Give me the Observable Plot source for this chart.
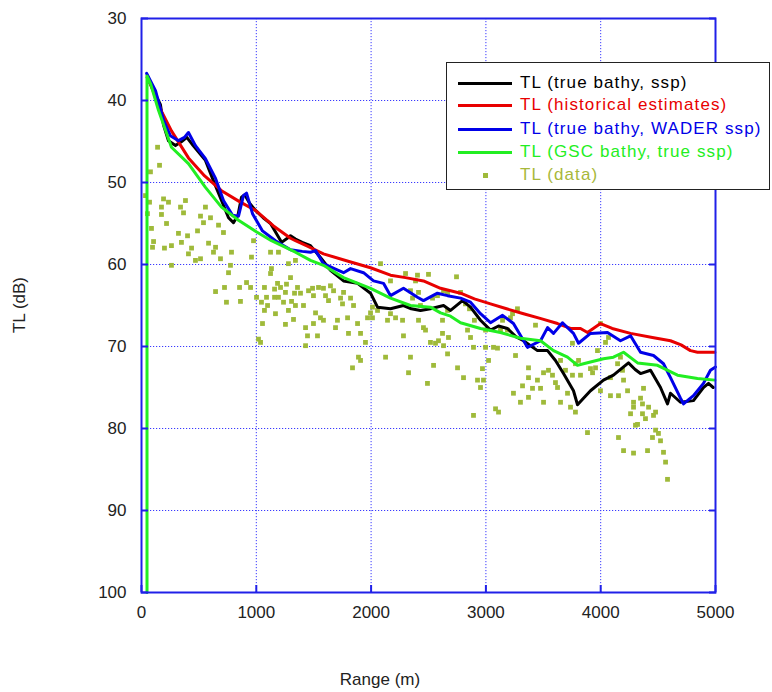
<!DOCTYPE html>
<html>
<head>
<meta charset="utf-8">
<script src="https://cdn.jsdelivr.net/npm/d3@7"></script>
<script src="https://cdn.jsdelivr.net/npm/@observablehq/plot@0.6"></script>
<style>
  body { margin: 0; background: #fff; }
  #wrap { position: relative; width: 772px; height: 692px; font-family: "Liberation Sans", Arial, sans-serif; }
  #legend { position: absolute; left: 446px; top: 62px; width: 324px; height: 128px; border: 1px solid #222; background: #fff; box-sizing: border-box; }
  .row { position: absolute; left: 0; height: 22px; display: flex; align-items: center; font-size: 17px; letter-spacing: 1.1px; }
  .sw { position: absolute; left: 11px; width: 54px; height: 3px; }
  .sq { position: absolute; left: 36px; width: 5px; height: 5px; }
  .lbl { position: absolute; left: 73px; white-space: nowrap; }
  #ylab { position: absolute; left: 20px; top: 305px; transform: translate(-50%,-50%) rotate(-90deg); font-size: 17px; color: #222; white-space: nowrap; }
  #xlab { position: absolute; left: 380px; top: 680px; transform: translate(-50%,-50%); font-size: 17px; color: #222; white-space: nowrap; }
</style>
</head>
<body>
<div id="wrap"></div>
<script>
const xTicks = [0, 1000, 2000, 3000, 4000, 5000];
const yTicks = [30, 40, 50, 60, 70, 80, 90, 100];

const seriesNames = ["TL (true bathy, ssp)", "TL (historical estimates)", "TL (true bathy, WADER ssp)", "TL (GSC bathy, true ssp)", "TL (data)"];
const seriesColors = ["#000000", "#e80000", "#0000e8", "#22ee22", "#9fba3a"];

const trueBathySsp = [[50,37.2],[105,38.8],[165,40.5],[192,43],[235,44.9],[296,45.5],[350,45.0],[395,44.5],[450,45.5],[557,47.3],[627,49.8],[697,52.2],[758,54.3],[801,54.9],[840,54.0],[871,51.8],[900,51.5],[940,52.5],[993,53.4],[1060,54.3],[1124,55.0],[1220,57.3],[1270,56.8],[1298,56.5],[1341,56.9],[1400,57.3],[1472,57.7],[1550,59.0],[1646,60.7],[1760,62.0],[1882,62.3],[1995,63.5],[2056,65.2],[2169,65.4],[2282,65.0],[2350,65.4],[2430,65.6],[2517,65.4],[2631,65.0],[2692,65.6],[2796,64.4],[2866,65.2],[2953,66.8],[3040,68.0],[3110,67.5],[3188,67.8],[3260,68.8],[3328,69.3],[3449,70.5],[3537,70.5],[3606,71.7],[3676,73.3],[3763,75.4],[3798,77.1],[3850,76.3],[3911,75.4],[4024,74.1],[4111,73.5],[4242,72.0],[4300,72.8],[4347,73.3],[4434,72.9],[4521,75.0],[4582,77.0],[4608,75.7],[4695,76.8],[4808,76.6],[4895,75.0],[4939,74.5],[4980,75.0]];

const historical = [[50,37.0],[120,39.5],[180,41.5],[261,43.7],[409,47.0],[550,49.2],[697,51.0],[850,52.3],[993,53.4],[1150,55.3],[1298,56.8],[1341,57.1],[1450,57.8],[1585,58.7],[1800,59.6],[1995,60.4],[2169,61.3],[2300,61.6],[2456,62.0],[2605,62.9],[2779,63.5],[2900,64.2],[3040,64.8],[3180,65.4],[3328,66.0],[3480,66.6],[3624,67.2],[3737,67.8],[3824,67.8],[3885,68.3],[3998,67.2],[4100,67.8],[4260,68.4],[4450,68.9],[4608,69.3],[4700,69.8],[4782,70.5],[4843,70.7],[4995,70.7]];

const waderSsp = [[45,36.7],[122,38.8],[192,42.4],[252,44.3],[322,44.9],[374,44.5],[409,43.9],[470,45.5],[557,47.1],[645,49.5],[714,52.2],[793,54.0],[845,54.1],[888,51.6],[915,51.3],[967,53.8],[1054,55.9],[1167,57.1],[1298,58.2],[1400,58.4],[1472,58.5],[1516,58.3],[1585,59.9],[1680,60.5],[1760,61.0],[1821,60.5],[1934,61.0],[2021,62.0],[2108,62.3],[2169,63.8],[2282,62.9],[2404,64.0],[2456,64.4],[2578,63.5],[2666,63.8],[2779,64.1],[2866,64.6],[2953,66.0],[3040,67.1],[3145,66.2],[3240,67.2],[3362,70.1],[3476,69.3],[3537,67.7],[3589,68.4],[3667,67.1],[3763,68.4],[3807,69.6],[3911,68.4],[4059,68.3],[4172,69.3],[4260,68.7],[4347,70.7],[4460,71.1],[4547,72.1],[4608,73.8],[4695,76.3],[4721,77.0],[4808,76.0],[4895,74.5],[4956,72.9],[5000,72.5]];

const gscBathy = [[48,100],[48,37.0],[80,38.0],[148,41.2],[261,45.7],[409,47.7],[557,50.6],[697,53.0],[845,54.6],[1000,56.0],[1132,57.1],[1341,58.5],[1472,59.5],[1585,60.1],[1760,61.6],[1995,62.9],[2169,64.1],[2343,65.0],[2517,65.2],[2605,65.9],[2692,66.3],[2779,67.1],[2953,67.8],[3127,68.3],[3301,69.0],[3476,69.3],[3589,70.5],[3711,71.3],[3798,72.3],[3850,72.1],[4024,71.5],[4111,71.3],[4199,70.7],[4321,72.0],[4495,72.3],[4669,73.5],[4843,73.9],[4995,74.1]];

const measured = [[140,45.7],[157,47.9],[78,48.7],[35,51.6],[70,52.4],[52,53.8],[87,55.6],[105,57.2],[96,57.9],[192,52.0],[235,52.4],[174,53.0],[174,53.9],[218,55.0],[261,57.7],[200,58.0],[322,56.2],[383,52.2],[340,53.0],[366,53.7],[401,56.5],[348,57.3],[436,58.0],[409,58.7],[470,59.5],[261,60.1],[557,53.0],[514,54.1],[601,54.3],[540,54.9],[671,55.2],[488,55.9],[714,56.1],[584,57.4],[645,57.9],[627,58.5],[514,59.3],[688,59.3],[784,58.5],[758,61.0],[775,60.1],[958,59.1],[976,57.1],[1124,61.1],[1132,60.5],[1298,61.6],[1254,63.4],[1193,64.0],[1124,58.5],[1193,58.5],[1280,59.9],[1341,59.5],[645,63.3],[723,62.8],[740,64.6],[854,62.8],[862,64.5],[915,62.2],[950,62.8],[1002,64.0],[1045,64.6],[1071,62.8],[1089,64.0],[1071,65.6],[1098,65.0],[1159,63.0],[1159,64.0],[1167,66.0],[1054,67.2],[1185,62.3],[1211,62.8],[1263,62.4],[1237,64.6],[1280,65.6],[1254,67.3],[1307,64.5],[1333,63.5],[1341,65.0],[1324,66.7],[1019,69.1],[1037,69.5],[1359,62.8],[1385,63.5],[1411,65.0],[1429,67.7],[1446,68.7],[1429,69.9],[1455,63.2],[1490,62.9],[1498,63.8],[1542,62.8],[1585,62.9],[1603,63.8],[1646,62.6],[1673,63.2],[1629,64.4],[1516,65.9],[1585,66.8],[1559,66.5],[1498,67.2],[1533,68.7],[1707,66.8],[1690,67.7],[1734,64.1],[1751,64.8],[1760,63.4],[1795,66.5],[1821,64.1],[1847,65.0],[1803,68.4],[1882,67.2],[1908,68.4],[1951,69.5],[1890,71.3],[1908,71.7],[1838,72.6],[1969,66.5],[1995,65.9],[2012,65.2],[2056,65.6],[2012,66.5],[2082,59.9],[2169,62.0],[2300,61.1],[2387,62.0],[2404,61.3],[2343,63.2],[2143,66.8],[2213,66.5],[2169,66.0],[2126,71.3],[2274,66.8],[2343,71.3],[2326,73.2],[2413,66.8],[2456,67.7],[2474,68.0],[2544,72.3],[2517,69.5],[2561,69.6],[2587,69.3],[2622,68.4],[2631,69.9],[2666,70.9],[2578,63.8],[2666,63.5],[2631,63.2],[2500,61.2],[2413,63.4],[2361,64.1],[2430,65.0],[2535,64.1],[2282,68.7],[2491,74.5],[2622,66.8],[2666,65.6],[2674,68.9],[2744,61.5],[2753,72.6],[2779,63.4],[2822,64.8],[2857,65.4],[2900,66.8],[2840,68.0],[2866,68.9],[2892,70.1],[2805,73.8],[2892,78.4],[2953,75.0],[2927,74.1],[2979,74.1],[2970,72.7],[3023,71.7],[3066,70.1],[3101,70.2],[2997,70.1],[2997,68.0],[3084,77.6],[3110,78.0],[3127,68.0],[3145,66.8],[3188,68.0],[3214,66.5],[3232,66.0],[3275,65.4],[3258,71.1],[3240,75.7],[3301,76.8],[3319,74.8],[3371,76.2],[3371,73.8],[3371,72.6],[3406,75.1],[3432,67.4],[3449,74.1],[3476,75.1],[3502,76.8],[3502,73.2],[3545,72.9],[3580,73.5],[3606,74.4],[3624,75.0],[3650,76.8],[3650,71.7],[3693,72.9],[3711,75.7],[3737,77.4],[3780,78.0],[3754,73.5],[3780,72.1],[3807,71.7],[3824,73.5],[3885,80.5],[3911,72.7],[3929,73.2],[3955,72.6],[3972,70.5],[3998,67.2],[3998,75.4],[4042,69.5],[4068,68.9],[4085,73.8],[4085,76.0],[4147,72.1],[4155,76.0],[4172,71.3],[4155,81.1],[4190,72.9],[4199,74.1],[4234,75.4],[4260,78.2],[4286,76.8],[4286,77.4],[4303,79.6],[4321,79.5],[4347,76.3],[4364,77.0],[4373,75.1],[4364,78.2],[4390,78.8],[4408,82.7],[4417,77.4],[4451,81.1],[4460,78.4],[4478,80.2],[4503,80.6],[4547,82.9],[4565,84.1],[4521,81.5],[4478,78.0],[4199,82.7],[4286,83.0],[4582,86.2],[3754,69.6]];

const blue = "#2020e8";
const grid = {stroke: "#3a3aff", strokeOpacity: 1, strokeDasharray: "1.2,1.8", strokeWidth: 1};

const chart = Plot.plot({
  width: 772,
  height: 692,
  marginTop: 18,
  marginBottom: 100,
  marginLeft: 141,
  marginRight: 57,
  style: {fontFamily: "Liberation Sans, Arial, sans-serif", fontSize: "17px", color: "#222", background: "#fff"},
  x: {domain: [0, 5000]},
  y: {domain: [30, 100], reverse: true},
  marks: [
    Plot.gridX(xTicks, grid),
    Plot.gridY(yTicks, grid),
    Plot.dot(measured, {x: d => d[0], y: d => d[1], symbol: "square", r: 2.7, fill: seriesColors[4], stroke: "none"}),
    Plot.line(trueBathySsp, {x: d => d[0], y: d => d[1], stroke: seriesColors[0], strokeWidth: 3}),
    Plot.line(historical, {x: d => d[0], y: d => d[1], stroke: seriesColors[1], strokeWidth: 3}),
    Plot.line(waderSsp, {x: d => d[0], y: d => d[1], stroke: seriesColors[2], strokeWidth: 3}),
    Plot.line(gscBathy, {x: d => d[0], y: d => d[1], stroke: seriesColors[3], strokeWidth: 3}),
    Plot.frame({stroke: blue, strokeWidth: 2}),
    Plot.axisY(yTicks, {anchor: "left", tickSize: 0, tickPadding: 15, label: null, fill: "#222"}),
    Plot.axisX(xTicks, {anchor: "bottom", tickSize: 0, tickPadding: 13, label: null, fill: "#222", tickFormat: d => String(d)}),
    Plot.axisY(yTicks, {anchor: "left", tickSize: 7, text: null, label: null, dx: 7, stroke: blue, strokeWidth: 2}),
    Plot.axisY(yTicks, {anchor: "right", tickSize: 7, text: null, label: null, dx: -7, stroke: blue, strokeWidth: 2}),
    Plot.axisX(xTicks, {anchor: "bottom", tickSize: 7, text: null, label: null, dy: -7, stroke: blue, strokeWidth: 2})
  ]
});

const wrap = document.getElementById("wrap");
wrap.appendChild(chart);

const ylab = document.createElement("div");
ylab.id = "ylab"; ylab.textContent = "TL (dB)";
wrap.appendChild(ylab);
const xlab = document.createElement("div");
xlab.id = "xlab"; xlab.textContent = "Range (m)";
wrap.appendChild(xlab);

const legend = document.createElement("div");
legend.id = "legend";
const rowTops = [9, 31, 55, 78, 101];
seriesNames.forEach((name, i) => {
  const row = document.createElement("div");
  row.className = "row";
  row.style.top = rowTops[i] + "px";
  row.style.width = "100%";
  const sw = document.createElement("div");
  if (i < 4) { sw.className = "sw"; sw.style.top = "10px"; }
  else { sw.className = "sq"; sw.style.top = "9px"; }
  sw.style.background = seriesColors[i];
  const lbl = document.createElement("span");
  lbl.className = "lbl";
  lbl.textContent = name;
  lbl.style.color = i === 4 ? "#a8b83a" : seriesColors[i];
  row.appendChild(sw); row.appendChild(lbl);
  legend.appendChild(row);
});
wrap.appendChild(legend);
</script>
</body>
</html>
